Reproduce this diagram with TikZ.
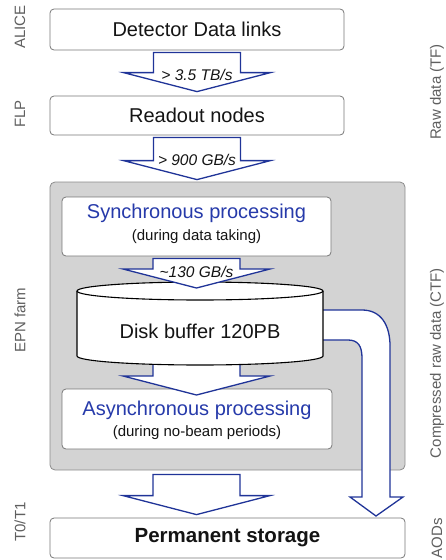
\documentclass[tikz,border=0pt]{standalone}
\usepackage{fontspec}
\setmainfont{Liberation Sans}
\usetikzlibrary{calc}
\definecolor{arrowblue}{RGB}{32,52,152}
\definecolor{textblue}{RGB}{38,58,170}
\definecolor{panelgray}{RGB}{211,211,211}
\definecolor{paneledge}{RGB}{140,140,140}
\definecolor{boxedge}{RGB}{120,120,120}
\definecolor{sidegray}{RGB}{95,95,95}
\definecolor{ink}{RGB}{20,20,20}
\newcommand\fatarrow[2]{%
  \filldraw[barrow] let \p1=(#1), \p2=(#2) in
    (\x1-43.5pt,\y1) -- (\x1-43.5pt,\y2+19pt) -- (\x1-73.5pt,\y2+19pt) --
    (\x1,\y2) -- (\x1+73.5pt,\y2+19pt) -- (\x1+43.5pt,\y2+19pt) --
    (\x1+43.5pt,\y1) -- cycle;}
\begin{document}
\begin{tikzpicture}[x=1pt,y=-1pt,
  box/.style={draw=boxedge, line width=0.8pt, fill=white, rounded corners=4pt, inner sep=0pt},
  panel/.style={draw=paneledge, line width=0.8pt, fill=panelgray, rounded corners=5pt, inner sep=0pt},
  barrow/.style={draw=arrowblue, fill=white, line width=1.3pt, line join=miter},
  big/.style={font=\fontsize{20}{24}\selectfont, text=ink, inner sep=0pt},
  bigblue/.style={font=\fontsize{20}{24}\selectfont, text=textblue, inner sep=0pt},
  small/.style={font=\fontsize{15}{18}\selectfont, text=ink, inner sep=0pt},
  rate/.style={font=\fontsize{15.5}{18}\selectfont\itshape, text=ink, inner sep=0pt},
  side/.style={font=\fontsize{15}{18}\selectfont, text=sidegray, inner sep=0pt, rotate=90},
  disk/.style={draw=black, line width=1.1pt, fill=white}]
\useasboundingbox (0,0) rectangle (446,560);

% panel and boxes
\node[panel, minimum width=355, minimum height=288] (panel) at (227.5,326) {};
\node[box, minimum width=294, minimum height=41] (det) at (197,29.5) {};
\node[big] (dett) at (det.center) {Detector Data links};
\node[box, minimum width=294, minimum height=39] (rdo) at (197,115.5) {};
\node[big] (rdot) at (rdo.center) {Readout nodes};
\node[box, minimum width=269, minimum height=59] (sync) at (196.5,226.5) {};
\node[bigblue] (synct) at (196.5,213) {Synchronous processing};
\node[small] (syncs) at (196.5,237) {(during data taking)};
\node[box, minimum width=270, minimum height=60] (async) at (197,419) {};
\node[bigblue] (asynct) at (197,410) {Asynchronous processing};
\node[small] (asyncs) at (197,433) {(during no-beam periods)};
\node[box, minimum width=355, minimum height=40] (perm) at (227.5,538) {};
\node[big, font=\fontsize{20.5}{24}\selectfont\bfseries] (permt) at (perm.center) {Permanent storage};

% helper coordinates
\coordinate (a1s) at ($(det.south)+(0,2)$);
\coordinate (a1e) at ($(rdo.north)+(0,-4)$);
\coordinate (a2s) at ($(rdo.south)+(0,2)$);
\coordinate (a2e) at ($(panel.north)+(0,-2)$);
\coordinate (a3s) at ($(sync.south)+(0,2)$);
\coordinate (a3e) at (196.5,288);
\coordinate (a4s) at (196.5,345);
\coordinate (a4e) at (196.5,395);
\coordinate (a5s) at ($(sync.south |- panel.south)+(0,4)$);
\coordinate (a5e) at ($(perm.north)+(0,-3)$);

% straight block arrows
\fatarrow{a1s}{a1e}
\fatarrow{a2s}{a2e}
\fatarrow{a4s}{a4e}
\fatarrow{a5s}{a5e}

% curved arrow from disk to storage
\coordinate (ctip) at (376,516);
\filldraw[barrow] (316,310) -- (362,310) .. controls (381,310) and (390,325) .. (390,346)
  -- (390,497) -- (403,497) -- (ctip) -- (350,497) -- (362,497) -- (362,358)
  .. controls (362,346) and (358,340) .. (348,340) -- (316,340) -- cycle;

% disk cylinder
\fill[white] (77,291) -- (77,356) arc[start angle=180, end angle=0, x radius=123, y radius=9] -- (323,291) -- cycle;
\draw[disk, fill=none] (77,291) -- (77,356) arc[start angle=180, end angle=0, x radius=123, y radius=9] -- (323,291);
\draw[disk] (200,291) ellipse[x radius=123, y radius=9];
\node[big] (disk) at (200,331) {Disk buffer 120PB};

\fatarrow{a3s}{a3e}

% rate labels
\node[rate] (r1) at (197,75) {> 3.5 TB/s};
\node[rate] (r2) at (197,160) {> 900 GB/s};
\node[rate] (r3) at (196.5,272) {\textasciitilde 130 GB/s};

% side labels
\node[side] (lalice) at (20,27) {ALICE};
\node[side] (lflp) at (20,114) {FLP};
\node[side] (lepn) at (20,320) {EPN farm};
\node[side] (lt0) at (20,522) {T0/T1};
\node[side] (lraw) at (437,92) {Raw data (TF)};
\node[side] (lctf) at (437,363) {Compressed raw data (CTF)};
\node[side] (laod) at (437,538) {AODs};
\end{tikzpicture}
\end{document}
